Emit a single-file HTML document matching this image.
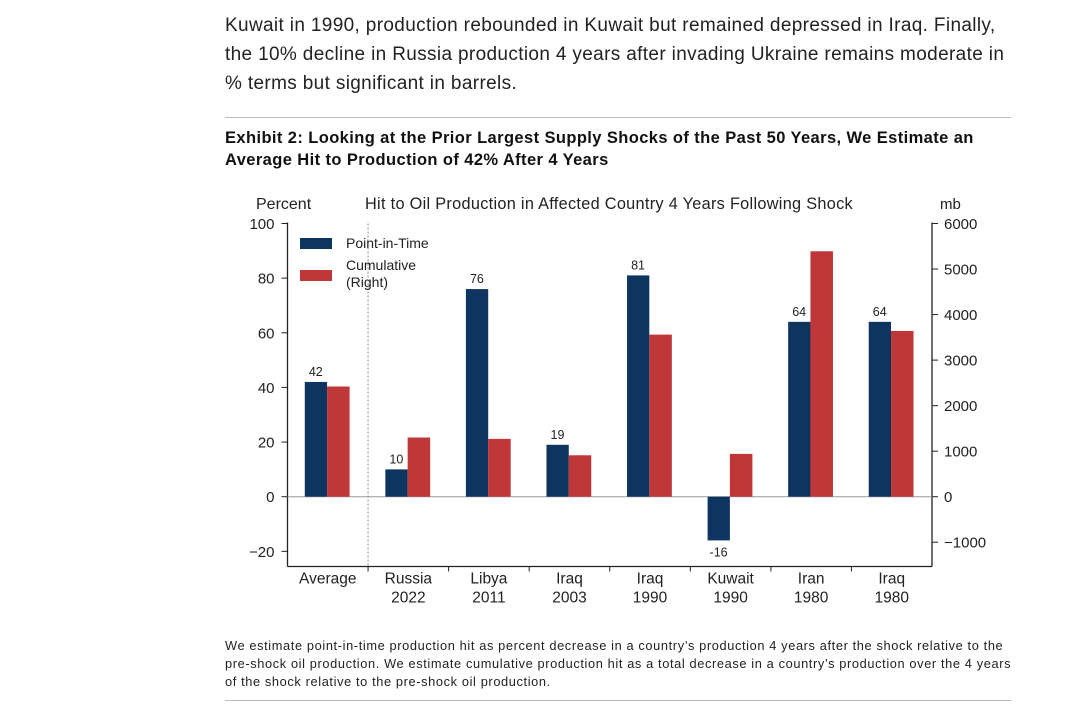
<!DOCTYPE html>
<html><head><meta charset="utf-8"><style>
body{margin:0;width:1080px;height:709px;background:#fff;font-family:"Liberation Sans",sans-serif;position:relative;overflow:hidden}
.p{position:absolute;left:225px;top:12px;font-size:19px;letter-spacing:0.35px;line-height:28.8px;color:#222;white-space:nowrap}
.rule{position:absolute;left:225px;width:786px;height:1px;background:#bbb}
.t{position:absolute;left:225px;top:127px;font-size:16.5px;letter-spacing:0.4px;font-weight:bold;line-height:22px;color:#111;white-space:nowrap}
.f{position:absolute;left:225px;top:637px;font-size:12.8px;letter-spacing:0.62px;line-height:18px;color:#222;white-space:nowrap}
svg{position:absolute;left:0;top:0}
svg text{font-family:"Liberation Sans",sans-serif;fill:#222}
</style></head><body>
<div class="p">Kuwait in 1990, production rebounded in Kuwait but remained depressed in Iraq. Finally,<br>the 10% decline in Russia production 4 years after invading Ukraine remains moderate in<br>% terms but significant in barrels.</div>
<div class="rule" style="top:117px"></div>
<div class="t">Exhibit 2: Looking at the Prior Largest Supply Shocks of the Past 50 Years, We Estimate an<br>Average Hit to Production of 42% After 4 Years</div>
<svg width="1080" height="709" id="chart"></svg>
<div class="f">We estimate point-in-time production hit as percent decrease in a country’s production 4 years after the shock relative to the<br>pre-shock oil production. We estimate cumulative production hit as a total decrease in a country’s production over the 4 years<br>of the shock relative to the pre-shock oil production.</div>
<div class="rule" style="top:700px"></div>
<script>
const categories=[["Average"],["Russia","2022"],["Libya","2011"],["Iraq","2003"],["Iraq","1990"],["Kuwait","1990"],["Iran","1980"],["Iraq","1980"]];
const pointInTime=[42,10,76,19,81,-16,64,64];
const cumulative=[2420,1300,1270,910,3560,940,5390,3640];
const leftTicks=[100,80,60,40,20,0,-20];
const rightTicks=[6000,5000,4000,3000,2000,1000,0,-1000];
const NS="http://www.w3.org/2000/svg";
const svg=document.getElementById('chart');
const X0=287.5,X1=932,YTOP=223.5,YZERO=496.7,YBOT=566.5;
const gw=(X1-X0)/categories.length;
const yL=v=>YZERO-(v/100)*(YZERO-YTOP);
const yR=v=>YZERO-(v/6000)*(YZERO-YTOP);
function el(t,a){const e=document.createElementNS(NS,t);for(const k in a)e.setAttribute(k,a[k]);svg.appendChild(e);return e;}
function txt(x,y,s,size,anchor){const e=el('text',{x:x,y:y,'font-size':size,'text-anchor':anchor||'middle'});e.textContent=s;return e;}
let a=el('line',{x1:X0,y1:YTOP-1,x2:X0,y2:YBOT,stroke:'#222','stroke-width':1.3});

a=el('line',{x1:X1,y1:YTOP-1,x2:X1,y2:YBOT,stroke:'#222','stroke-width':1.3});

a=el('line',{x1:X0,y1:YBOT,x2:X1,y2:YBOT,stroke:'#222','stroke-width':1.3});

a=el('line',{x1:X0,y1:YZERO,x2:X1,y2:YZERO,stroke:'#999','stroke-width':1});

a=el('line',{x1:X0+gw,y1:YTOP,x2:X0+gw,y2:YBOT,stroke:'#888','stroke-width':1,'stroke-dasharray':'2,2'});

leftTicks.forEach(v=>{const y=yL(v);
 el('line',{x1:X0-6,y1:y,x2:X0,y2:y,stroke:'#222'});
 const t=txt(X0-13,y+5.5,v<0?'−'+(-v):String(v),15,'end');
 });
rightTicks.forEach(v=>{const y=yR(v);
 el('line',{x1:X1,y1:y,x2:X1+6,y2:y,stroke:'#222'});
 const t=txt(X1+12,y+5.5,v<0?'−'+(-v):String(v),15,'start');
 });
for(let i=1;i<categories.length;i++){el('line',{x1:X0+gw*i,y1:YBOT,x2:X0+gw*i,y2:YBOT+5,stroke:'#222'});}
categories.forEach((c,i)=>{const cx=X0+gw*(i+0.5);
 c.forEach((s,j)=>{const t=txt(cx,YBOT+17+j*19,s,15.5);
 });
 const v=pointInTime[i];const y=yL(v);
 const b=el('rect',{x:cx-23,y:Math.min(y,YZERO),width:22.3,height:Math.abs(YZERO-y),fill:'#0e3560'});
 
 const lb=txt(cx-12,v>=0?y-6:y+16,String(v),12.5);
 
 const r=cumulative[i];const yr=yR(r);
 const b2=el('rect',{x:cx-0.7,y:Math.min(yr,YZERO),width:22.5,height:Math.abs(YZERO-yr),fill:'#c0373a'});
 
});
let t=txt(256,209,'Percent',16,'start');
t=txt(365,209,'Hit to Oil Production in Affected Country 4 Years Following Shock',16.3,'start');t.setAttribute('letter-spacing','0.3');
t=txt(940,209,'mb',15,'start');
let r=el('rect',{x:300,y:238,width:32,height:11,fill:'#0e3560'});
t=txt(346,248,'Point-in-Time',14,'start');
r=el('rect',{x:300,y:270,width:32,height:11,fill:'#c0373a'});
t=txt(346,270,'Cumulative',14,'start');
t=txt(346,287,'(Right)',14,'start');
</script>
</body></html>
